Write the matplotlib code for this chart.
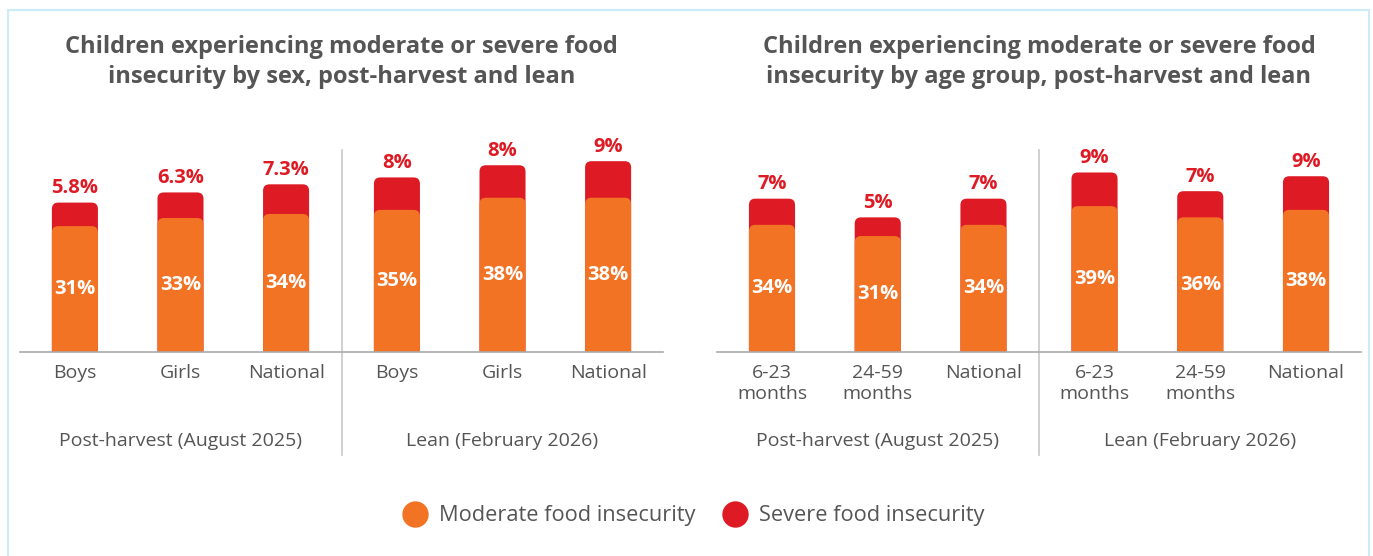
import matplotlib.pyplot as plt
from matplotlib.patches import FancyBboxPatch, Rectangle
from matplotlib.lines import Line2D

# data
sex_labels = ['Boys', 'Girls', 'National', 'Boys', 'Girls', 'National']
sex_moderate = [31, 33, 34, 35, 38, 38]
sex_severe = [5.8, 6.3, 7.3, 8, 8, 9]
sex_severe_txt = ['5.8%', '6.3%', '7.3%', '8%', '8%', '9%']

age_labels = ['6-23\nmonths', '24-59\nmonths', 'National', '6-23\nmonths', '24-59\nmonths', 'National']
age_moderate = [34, 31, 34, 39, 36, 38]
age_severe = [7, 5, 7, 9, 7, 9]
age_severe_txt = ['7%', '5%', '7%', '9%', '7%', '9%']

groups = ['Post-harvest (August 2025)', 'Lean (February 2026)']
titles = ['Children experiencing moderate or severe food\ninsecurity by sex, post-harvest and lean',
          'Children experiencing moderate or severe food\ninsecurity by age group, post-harvest and lean']

ORANGE = '#f37325'
RED = '#de1b24'
GREY = '#555555'

plt.rcParams['font.family'] = ['Open Sans', 'DejaVu Sans']

W, H = 1373, 556
fig = plt.figure(figsize=(W / 100, H / 100), dpi=100)

# light blue frame
fig.patches.append(Rectangle((8 / W, -0.1), (1369 - 8) / W, 1.1 - 10 / H,
                             transform=fig.transFigure, fill=False,
                             edgecolor='#cdeaf8', lw=1.5))

pos = [0, 1, 2, 3.05, 4.05, 5.05]
xlim = (-0.52, 5.57)
bw = 0.436


def bar(ax, x, h, color, aspect):
    r = 0.06
    p = FancyBboxPatch((x - bw / 2, -5), bw, h + 5,
                       boxstyle=f'round,pad=0,rounding_size={r}',
                       mutation_aspect=aspect, facecolor=color, edgecolor='none')
    ax.add_patch(p)


def panel(rect, labels, moderate, severe, sev_txt, ymax, title):
    ax = fig.add_axes(rect)
    ax.set_xlim(*xlim)
    ax.set_ylim(0, ymax)
    ax_w = rect[2] * W
    ax_h = rect[3] * H
    aspect = (ax_w / (xlim[1] - xlim[0])) / (ax_h / ymax)
    for x, m, s, t in zip(pos, moderate, severe, sev_txt):
        bar(ax, x, m + s, RED, aspect)
        bar(ax, x, m, ORANGE, aspect)
        ax.annotate(t, (x, m + s), xytext=(0, 3), textcoords='offset points',
                    ha='center', va='bottom', color=RED, fontsize=14.5, fontweight='bold')
        ax.text(x, m / 2, f'{m}%', ha='center', va='center', color='white',
                fontsize=14.5, fontweight='bold')
    for sp in ['top', 'right', 'left']:
        ax.spines[sp].set_visible(False)
    ax.spines['bottom'].set_color('#aaaaaa')
    ax.spines['bottom'].set_linewidth(1.2)
    ax.set_yticks([])
    ax.set_xticks(pos, labels)
    ax.tick_params(axis='x', length=0, pad=9, labelsize=14, labelcolor=GREY)
    for lab in ax.get_xticklabels():
        lab.set_linespacing(1.2)
    # divider between groups
    mid = (pos[2] + pos[3]) / 2
    ax.plot([mid, mid], [0.91, -0.464], transform=ax.get_xaxis_transform(),
            color='#c8c8c8', lw=1.2, clip_on=False)
    ax.text((pos[0] + pos[2]) / 2, -0.40, groups[0], transform=ax.get_xaxis_transform(),
            ha='center', va='center', fontsize=14, color=GREY)
    ax.text((pos[3] + pos[5]) / 2, -0.40, groups[1], transform=ax.get_xaxis_transform(),
            ha='center', va='center', fontsize=14, color=GREY)
    cx = rect[0] + rect[2] / 2
    fig.text(cx, 1 - 62 / H, title, ha='center', va='center', fontsize=17,
             fontweight='bold', color=GREY, linespacing=1.33)
    return ax


bottom = (H - 352) / H
height = 222 / H
panel([20 / W, bottom, 643 / W, height], sex_labels, sex_moderate, sex_severe,
      sex_severe_txt, 222 / 4.06, titles[0])
panel([717 / W, bottom, 644 / W, height], age_labels, age_moderate, age_severe,
      age_severe_txt, 222 / 3.74, titles[1])

handles = [Line2D([], [], marker='o', linestyle='none', markersize=19,
                  markerfacecolor=c, markeredgecolor='none') for c in (ORANGE, RED)]
fig.legend(handles, ['Moderate food insecurity', 'Severe food insecurity'],
           loc='center', bbox_to_anchor=(689 / W, (H - 516) / H), ncol=2,
           frameon=False, fontsize=15.7, labelcolor=GREY, handletextpad=0.1,
           columnspacing=0.8)

fig.savefig('out.png', dpi=100, facecolor='white')
